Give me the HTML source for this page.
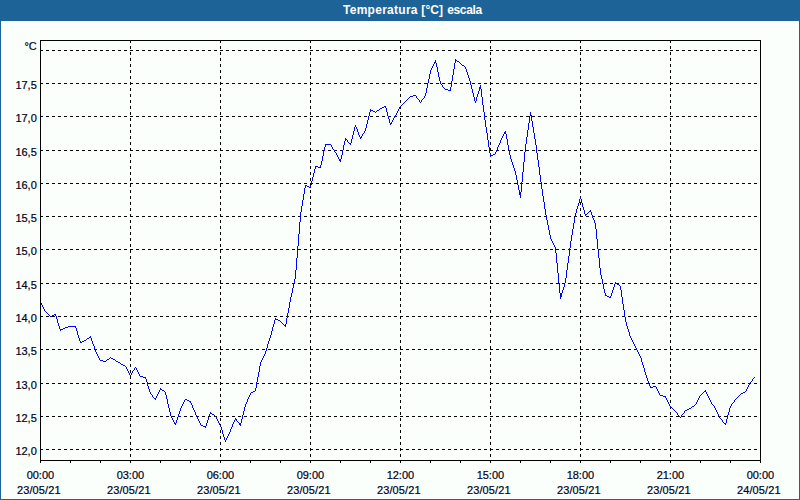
<!DOCTYPE html>
<html><head><meta charset="utf-8"><title>Temperatura</title>
<style>
html,body{margin:0;padding:0;}
body{width:800px;height:500px;overflow:hidden;background:#1E6397;position:relative;font-family:"Liberation Sans",sans-serif;}
#panel{position:absolute;left:1px;top:21px;width:798px;height:478px;background:#FBFFFB;}
</style></head><body>
<div id="panel"></div>
<svg width="800" height="500" viewBox="0 0 800 500" shape-rendering="crispEdges" style="position:absolute;left:0;top:0">
<defs><pattern id="dz" x="0" y="1" width="4" height="4" patternUnits="userSpaceOnUse"><rect x="1" y="0" width="1" height="1" fill="#2162A8"/><rect x="3" y="2" width="1" height="1" fill="#2162A8"/></pattern></defs>
<rect x="0" y="0" width="800" height="20" fill="url(#dz)"/>
<line x1="40" y1="50.5" x2="760" y2="50.5" stroke="#000" stroke-width="1" stroke-dasharray="3 3"/>
<line x1="40" y1="83.5" x2="760" y2="83.5" stroke="#000" stroke-width="1" stroke-dasharray="3 3"/>
<line x1="40" y1="116.5" x2="760" y2="116.5" stroke="#000" stroke-width="1" stroke-dasharray="3 3"/>
<line x1="40" y1="150.5" x2="760" y2="150.5" stroke="#000" stroke-width="1" stroke-dasharray="3 3"/>
<line x1="40" y1="183.5" x2="760" y2="183.5" stroke="#000" stroke-width="1" stroke-dasharray="3 3"/>
<line x1="40" y1="216.5" x2="760" y2="216.5" stroke="#000" stroke-width="1" stroke-dasharray="3 3"/>
<line x1="40" y1="249.5" x2="760" y2="249.5" stroke="#000" stroke-width="1" stroke-dasharray="3 3"/>
<line x1="40" y1="283.5" x2="760" y2="283.5" stroke="#000" stroke-width="1" stroke-dasharray="3 3"/>
<line x1="40" y1="316.5" x2="760" y2="316.5" stroke="#000" stroke-width="1" stroke-dasharray="3 3"/>
<line x1="40" y1="349.5" x2="760" y2="349.5" stroke="#000" stroke-width="1" stroke-dasharray="3 3"/>
<line x1="40" y1="383.5" x2="760" y2="383.5" stroke="#000" stroke-width="1" stroke-dasharray="3 3"/>
<line x1="40" y1="416.5" x2="760" y2="416.5" stroke="#000" stroke-width="1" stroke-dasharray="3 3"/>
<line x1="40" y1="449.5" x2="760" y2="449.5" stroke="#000" stroke-width="1" stroke-dasharray="3 3"/>
<line x1="130.5" y1="40" x2="130.5" y2="460" stroke="#000" stroke-width="1" stroke-dasharray="3 3"/>
<line x1="220.5" y1="40" x2="220.5" y2="460" stroke="#000" stroke-width="1" stroke-dasharray="3 3"/>
<line x1="310.5" y1="40" x2="310.5" y2="460" stroke="#000" stroke-width="1" stroke-dasharray="3 3"/>
<line x1="400.5" y1="40" x2="400.5" y2="460" stroke="#000" stroke-width="1" stroke-dasharray="3 3"/>
<line x1="490.5" y1="40" x2="490.5" y2="460" stroke="#000" stroke-width="1" stroke-dasharray="3 3"/>
<line x1="580.5" y1="40" x2="580.5" y2="460" stroke="#000" stroke-width="1" stroke-dasharray="3 3"/>
<line x1="670.5" y1="40" x2="670.5" y2="460" stroke="#000" stroke-width="1" stroke-dasharray="3 3"/>
<line x1="40.5" y1="460" x2="40.5" y2="463" stroke="#000" stroke-width="1"/>
<line x1="70.5" y1="460" x2="70.5" y2="463" stroke="#000" stroke-width="1"/>
<line x1="100.5" y1="460" x2="100.5" y2="463" stroke="#000" stroke-width="1"/>
<line x1="130.5" y1="460" x2="130.5" y2="463" stroke="#000" stroke-width="1"/>
<line x1="160.5" y1="460" x2="160.5" y2="463" stroke="#000" stroke-width="1"/>
<line x1="190.5" y1="460" x2="190.5" y2="463" stroke="#000" stroke-width="1"/>
<line x1="220.5" y1="460" x2="220.5" y2="463" stroke="#000" stroke-width="1"/>
<line x1="250.5" y1="460" x2="250.5" y2="463" stroke="#000" stroke-width="1"/>
<line x1="280.5" y1="460" x2="280.5" y2="463" stroke="#000" stroke-width="1"/>
<line x1="310.5" y1="460" x2="310.5" y2="463" stroke="#000" stroke-width="1"/>
<line x1="340.5" y1="460" x2="340.5" y2="463" stroke="#000" stroke-width="1"/>
<line x1="370.5" y1="460" x2="370.5" y2="463" stroke="#000" stroke-width="1"/>
<line x1="400.5" y1="460" x2="400.5" y2="463" stroke="#000" stroke-width="1"/>
<line x1="430.5" y1="460" x2="430.5" y2="463" stroke="#000" stroke-width="1"/>
<line x1="460.5" y1="460" x2="460.5" y2="463" stroke="#000" stroke-width="1"/>
<line x1="490.5" y1="460" x2="490.5" y2="463" stroke="#000" stroke-width="1"/>
<line x1="520.5" y1="460" x2="520.5" y2="463" stroke="#000" stroke-width="1"/>
<line x1="550.5" y1="460" x2="550.5" y2="463" stroke="#000" stroke-width="1"/>
<line x1="580.5" y1="460" x2="580.5" y2="463" stroke="#000" stroke-width="1"/>
<line x1="610.5" y1="460" x2="610.5" y2="463" stroke="#000" stroke-width="1"/>
<line x1="640.5" y1="460" x2="640.5" y2="463" stroke="#000" stroke-width="1"/>
<line x1="670.5" y1="460" x2="670.5" y2="463" stroke="#000" stroke-width="1"/>
<line x1="700.5" y1="460" x2="700.5" y2="463" stroke="#000" stroke-width="1"/>
<line x1="730.5" y1="460" x2="730.5" y2="463" stroke="#000" stroke-width="1"/>
<line x1="760.5" y1="460" x2="760.5" y2="463" stroke="#000" stroke-width="1"/>
<path d="M41 303h1v2h-1zM42 305h1v2h-1zM43 307h1v2h-1zM44 309h1v2h-1zM45 311h1v1h-1zM46 312h1v1h-1zM47 313h1v1h-1zM48 314h1v1h-1zM49 315h1v1h-1zM50 316h1v1h-1zM51 316h1v1h-1zM52 315h1v1h-1zM53 315h1v1h-1zM54 314h1v1h-1zM55 314h1v2h-1zM56 316h1v3h-1zM57 319h1v4h-1zM58 323h1v3h-1zM59 326h1v3h-1zM60 329h1v2h-1zM61 329h1v1h-1zM62 329h1v1h-1zM63 328h1v1h-1zM64 328h1v1h-1zM65 327h1v1h-1zM66 327h1v1h-1zM67 327h1v1h-1zM68 326h1v1h-1zM69 326h1v1h-1zM70 326h1v1h-1zM71 326h1v1h-1zM72 326h1v1h-1zM73 326h1v1h-1zM74 326h1v1h-1zM75 326h1v2h-1zM76 328h1v3h-1zM77 331h1v4h-1zM78 335h1v3h-1zM79 338h1v3h-1zM80 341h1v2h-1zM81 342h1v1h-1zM82 341h1v1h-1zM83 341h1v1h-1zM84 340h1v1h-1zM85 340h1v1h-1zM86 339h1v1h-1zM87 338h1v1h-1zM88 338h1v1h-1zM89 337h1v1h-1zM90 336h1v2h-1zM91 338h1v3h-1zM92 341h1v3h-1zM93 344h1v2h-1zM94 346h1v3h-1zM95 349h1v3h-1zM96 352h1v2h-1zM97 354h1v2h-1zM98 356h1v2h-1zM99 358h1v2h-1zM100 360h1v1h-1zM101 360h1v1h-1zM102 360h1v1h-1zM103 361h1v1h-1zM104 361h1v1h-1zM105 361h1v1h-1zM106 360h1v1h-1zM107 359h1v1h-1zM108 359h1v1h-1zM109 358h1v1h-1zM110 357h1v1h-1zM111 358h1v1h-1zM112 358h1v1h-1zM113 359h1v1h-1zM114 359h1v1h-1zM115 360h1v1h-1zM116 361h1v1h-1zM117 361h1v1h-1zM118 362h1v1h-1zM119 362h1v1h-1zM120 363h1v1h-1zM121 364h1v1h-1zM122 364h1v1h-1zM123 365h1v1h-1zM124 365h1v1h-1zM125 366h1v1h-1zM126 367h1v2h-1zM127 369h1v2h-1zM128 371h1v2h-1zM129 373h1v2h-1zM130 375h1v1h-1zM131 373h1v2h-1zM132 371h1v2h-1zM133 370h1v1h-1zM134 368h1v2h-1zM135 367h1v1h-1zM136 368h1v2h-1zM137 370h1v2h-1zM138 372h1v2h-1zM139 374h1v2h-1zM140 376h1v1h-1zM141 376h1v1h-1zM142 376h1v1h-1zM143 377h1v1h-1zM144 377h1v1h-1zM145 377h1v2h-1zM146 379h1v3h-1zM147 382h1v4h-1zM148 386h1v3h-1zM149 389h1v3h-1zM150 392h1v2h-1zM151 394h1v1h-1zM152 395h1v2h-1zM153 397h1v1h-1zM154 398h1v1h-1zM155 398h1v2h-1zM156 396h1v2h-1zM157 394h1v2h-1zM158 392h1v2h-1zM159 390h1v2h-1zM160 388h1v2h-1zM161 389h1v1h-1zM162 390h1v1h-1zM163 390h1v1h-1zM164 391h1v1h-1zM165 392h1v3h-1zM166 395h1v4h-1zM167 399h1v5h-1zM168 404h1v4h-1zM169 408h1v4h-1zM170 412h1v4h-1zM171 416h1v2h-1zM172 418h1v2h-1zM173 420h1v2h-1zM174 422h1v2h-1zM175 423h1v2h-1zM176 420h1v3h-1zM177 417h1v3h-1zM178 414h1v3h-1zM179 411h1v3h-1zM180 408h1v3h-1zM181 406h1v2h-1zM182 404h1v2h-1zM183 402h1v2h-1zM184 400h1v2h-1zM185 399h1v1h-1zM186 399h1v1h-1zM187 400h1v1h-1zM188 400h1v1h-1zM189 401h1v1h-1zM190 401h1v2h-1zM191 403h1v2h-1zM192 405h1v3h-1zM193 408h1v2h-1zM194 410h1v2h-1zM195 412h1v3h-1zM196 415h1v2h-1zM197 417h1v2h-1zM198 419h1v2h-1zM199 421h1v2h-1zM200 423h1v2h-1zM201 425h1v1h-1zM202 425h1v1h-1zM203 426h1v1h-1zM204 426h1v1h-1zM205 426h1v2h-1zM206 423h1v3h-1zM207 420h1v3h-1zM208 417h1v3h-1zM209 414h1v3h-1zM210 412h1v2h-1zM211 413h1v1h-1zM212 414h1v1h-1zM213 414h1v1h-1zM214 415h1v1h-1zM215 416h1v1h-1zM216 417h1v2h-1zM217 419h1v2h-1zM218 421h1v2h-1zM219 423h1v2h-1zM220 425h1v2h-1zM221 427h1v3h-1zM222 430h1v4h-1zM223 434h1v3h-1zM224 437h1v3h-1zM225 440h1v2h-1zM226 438h1v2h-1zM227 436h1v2h-1zM228 434h1v2h-1zM229 432h1v2h-1zM230 429h1v3h-1zM231 427h1v2h-1zM232 424h1v3h-1zM233 422h1v2h-1zM234 420h1v2h-1zM235 418h1v2h-1zM236 419h1v2h-1zM237 421h1v1h-1zM238 422h1v1h-1zM239 423h1v2h-1zM240 423h1v3h-1zM241 419h1v4h-1zM242 415h1v4h-1zM243 411h1v4h-1zM244 407h1v4h-1zM245 404h1v3h-1zM246 402h1v2h-1zM247 399h1v3h-1zM248 397h1v2h-1zM249 395h1v2h-1zM250 393h1v2h-1zM251 392h1v1h-1zM252 392h1v1h-1zM253 391h1v1h-1zM254 391h1v1h-1zM255 388h1v3h-1zM256 382h1v6h-1zM257 377h1v5h-1zM258 372h1v5h-1zM259 366h1v6h-1zM260 362h1v4h-1zM261 360h1v2h-1zM262 358h1v2h-1zM263 356h1v2h-1zM264 354h1v2h-1zM265 351h1v3h-1zM266 348h1v3h-1zM267 344h1v4h-1zM268 341h1v3h-1zM269 338h1v3h-1zM270 335h1v3h-1zM271 331h1v4h-1zM272 327h1v4h-1zM273 324h1v3h-1zM274 320h1v4h-1zM275 318h1v2h-1zM276 319h1v1h-1zM277 319h1v1h-1zM278 320h1v1h-1zM279 320h1v1h-1zM280 321h1v1h-1zM281 322h1v1h-1zM282 323h1v1h-1zM283 324h1v1h-1zM284 325h1v1h-1zM285 324h1v3h-1zM286 318h1v6h-1zM287 313h1v5h-1zM288 308h1v5h-1zM289 302h1v6h-1zM290 297h1v5h-1zM291 293h1v4h-1zM292 288h1v5h-1zM293 283h1v5h-1zM294 279h1v4h-1zM295 270h1v9h-1zM296 258h1v12h-1zM297 246h1v12h-1zM298 234h1v12h-1zM299 222h1v12h-1zM300 212h1v10h-1zM301 206h1v6h-1zM302 200h1v6h-1zM303 194h1v6h-1zM304 188h1v6h-1zM305 185h1v3h-1zM306 185h1v1h-1zM307 186h1v1h-1zM308 186h1v1h-1zM309 187h1v1h-1zM310 185h1v3h-1zM311 181h1v4h-1zM312 177h1v4h-1zM313 173h1v4h-1zM314 169h1v4h-1zM315 166h1v3h-1zM316 166h1v1h-1zM317 166h1v1h-1zM318 167h1v1h-1zM319 167h1v1h-1zM320 165h1v3h-1zM321 161h1v4h-1zM322 156h1v5h-1zM323 151h1v5h-1zM324 147h1v4h-1zM325 144h1v3h-1zM326 144h1v1h-1zM327 144h1v1h-1zM328 144h1v1h-1zM329 144h1v1h-1zM330 144h1v1h-1zM331 145h1v2h-1zM332 147h1v2h-1zM333 149h1v1h-1zM334 150h1v2h-1zM335 152h1v1h-1zM336 153h1v2h-1zM337 155h1v2h-1zM338 157h1v2h-1zM339 159h1v2h-1zM340 159h1v3h-1zM341 155h1v4h-1zM342 150h1v5h-1zM343 145h1v5h-1zM344 141h1v4h-1zM345 138h1v3h-1zM346 139h1v1h-1zM347 140h1v2h-1zM348 142h1v1h-1zM349 143h1v1h-1zM350 143h1v2h-1zM351 139h1v4h-1zM352 135h1v4h-1zM353 131h1v4h-1zM354 127h1v4h-1zM355 125h1v2h-1zM356 127h1v2h-1zM357 129h1v3h-1zM358 132h1v3h-1zM359 135h1v2h-1zM360 137h1v2h-1zM361 136h1v2h-1zM362 134h1v2h-1zM363 133h1v1h-1zM364 131h1v2h-1zM365 128h1v3h-1zM366 124h1v4h-1zM367 120h1v4h-1zM368 116h1v4h-1zM369 112h1v4h-1zM370 109h1v3h-1zM371 110h1v1h-1zM372 110h1v1h-1zM373 111h1v1h-1zM374 111h1v1h-1zM375 112h1v1h-1zM376 111h1v1h-1zM377 110h1v1h-1zM378 110h1v1h-1zM379 109h1v1h-1zM380 108h1v1h-1zM381 108h1v1h-1zM382 107h1v1h-1zM383 107h1v1h-1zM384 106h1v1h-1zM385 106h1v2h-1zM386 108h1v4h-1zM387 112h1v4h-1zM388 116h1v3h-1zM389 119h1v4h-1zM390 123h1v2h-1zM391 122h1v2h-1zM392 120h1v2h-1zM393 118h1v2h-1zM394 116h1v2h-1zM395 115h1v1h-1zM396 113h1v2h-1zM397 111h1v2h-1zM398 109h1v2h-1zM399 107h1v2h-1zM400 106h1v1h-1zM401 105h1v1h-1zM402 104h1v1h-1zM403 103h1v1h-1zM404 102h1v1h-1zM405 101h1v1h-1zM406 100h1v1h-1zM407 99h1v1h-1zM408 98h1v1h-1zM409 97h1v1h-1zM410 96h1v1h-1zM411 96h1v1h-1zM412 96h1v1h-1zM413 95h1v1h-1zM414 95h1v1h-1zM415 95h1v1h-1zM416 96h1v2h-1zM417 98h1v1h-1zM418 99h1v1h-1zM419 100h1v2h-1zM420 102h1v1h-1zM421 100h1v2h-1zM422 99h1v1h-1zM423 98h1v1h-1zM424 96h1v2h-1zM425 93h1v3h-1zM426 88h1v5h-1zM427 83h1v5h-1zM428 79h1v4h-1zM429 74h1v5h-1zM430 70h1v4h-1zM431 68h1v2h-1zM432 66h1v2h-1zM433 64h1v2h-1zM434 62h1v2h-1zM435 60h1v3h-1zM436 63h1v4h-1zM437 67h1v5h-1zM438 72h1v5h-1zM439 77h1v4h-1zM440 81h1v3h-1zM441 84h1v1h-1zM442 85h1v2h-1zM443 87h1v1h-1zM444 88h1v1h-1zM445 89h1v1h-1zM446 89h1v1h-1zM447 89h1v1h-1zM448 90h1v1h-1zM449 90h1v1h-1zM450 87h1v4h-1zM451 81h1v6h-1zM452 75h1v6h-1zM453 69h1v6h-1zM454 63h1v6h-1zM455 59h1v4h-1zM456 60h1v1h-1zM457 61h1v1h-1zM458 61h1v1h-1zM459 62h1v1h-1zM460 63h1v1h-1zM461 64h1v1h-1zM462 65h1v1h-1zM463 65h1v1h-1zM464 66h1v1h-1zM465 67h1v2h-1zM466 69h1v3h-1zM467 72h1v3h-1zM468 75h1v3h-1zM469 78h1v3h-1zM470 81h1v4h-1zM471 85h1v4h-1zM472 89h1v4h-1zM473 93h1v4h-1zM474 97h1v4h-1zM475 101h1v2h-1zM476 97h1v4h-1zM477 94h1v3h-1zM478 91h1v3h-1zM479 87h1v4h-1zM480 85h1v4h-1zM481 89h1v8h-1zM482 97h1v8h-1zM483 105h1v7h-1zM484 112h1v8h-1zM485 120h1v7h-1zM486 127h1v6h-1zM487 133h1v7h-1zM488 140h1v7h-1zM489 147h1v6h-1zM490 153h1v4h-1zM491 155h1v1h-1zM492 155h1v1h-1zM493 154h1v1h-1zM494 154h1v1h-1zM495 152h1v2h-1zM496 150h1v2h-1zM497 147h1v3h-1zM498 145h1v2h-1zM499 143h1v2h-1zM500 140h1v3h-1zM501 138h1v2h-1zM502 136h1v2h-1zM503 134h1v2h-1zM504 132h1v2h-1zM505 131h1v3h-1zM506 134h1v5h-1zM507 139h1v6h-1zM508 145h1v5h-1zM509 150h1v5h-1zM510 155h1v4h-1zM511 159h1v3h-1zM512 162h1v3h-1zM513 165h1v3h-1zM514 168h1v3h-1zM515 171h1v4h-1zM516 175h1v5h-1zM517 180h1v5h-1zM518 185h1v5h-1zM519 190h1v5h-1zM520 192h1v6h-1zM521 182h1v10h-1zM522 172h1v10h-1zM523 162h1v10h-1zM524 152h1v10h-1zM525 144h1v8h-1zM526 137h1v7h-1zM527 130h1v7h-1zM528 123h1v7h-1zM529 116h1v7h-1zM530 112h1v4h-1zM531 115h1v6h-1zM532 121h1v6h-1zM533 127h1v6h-1zM534 133h1v6h-1zM535 139h1v6h-1zM536 145h1v8h-1zM537 153h1v7h-1zM538 160h1v7h-1zM539 167h1v8h-1zM540 175h1v7h-1zM541 182h1v7h-1zM542 189h1v7h-1zM543 196h1v6h-1zM544 202h1v7h-1zM545 209h1v6h-1zM546 215h1v5h-1zM547 220h1v5h-1zM548 225h1v5h-1zM549 230h1v5h-1zM550 235h1v4h-1zM551 239h1v2h-1zM552 241h1v2h-1zM553 243h1v2h-1zM554 245h1v2h-1zM555 247h1v6h-1zM556 253h1v10h-1zM557 263h1v10h-1zM558 273h1v10h-1zM559 283h1v10h-1zM560 293h1v6h-1zM561 293h1v4h-1zM562 290h1v3h-1zM563 287h1v3h-1zM564 283h1v4h-1zM565 278h1v5h-1zM566 270h1v8h-1zM567 263h1v7h-1zM568 256h1v7h-1zM569 248h1v8h-1zM570 241h1v7h-1zM571 235h1v6h-1zM572 229h1v6h-1zM573 223h1v6h-1zM574 217h1v6h-1zM575 213h1v4h-1zM576 209h1v4h-1zM577 206h1v3h-1zM578 203h1v3h-1zM579 199h1v4h-1zM580 197h1v2h-1zM581 199h1v4h-1zM582 203h1v4h-1zM583 207h1v3h-1zM584 210h1v4h-1zM585 214h1v2h-1zM586 214h1v1h-1zM587 213h1v1h-1zM588 212h1v1h-1zM589 211h1v1h-1zM590 210h1v2h-1zM591 212h1v3h-1zM592 215h1v3h-1zM593 218h1v2h-1zM594 220h1v3h-1zM595 223h1v6h-1zM596 229h1v10h-1zM597 239h1v10h-1zM598 249h1v9h-1zM599 258h1v10h-1zM600 268h1v7h-1zM601 275h1v4h-1zM602 279h1v5h-1zM603 284h1v5h-1zM604 289h1v4h-1zM605 293h1v3h-1zM606 295h1v1h-1zM607 296h1v1h-1zM608 296h1v1h-1zM609 297h1v1h-1zM610 296h1v2h-1zM611 293h1v3h-1zM612 290h1v3h-1zM613 287h1v3h-1zM614 284h1v3h-1zM615 282h1v2h-1zM616 283h1v1h-1zM617 284h1v1h-1zM618 284h1v1h-1zM619 285h1v1h-1zM620 286h1v4h-1zM621 290h1v7h-1zM622 297h1v7h-1zM623 304h1v6h-1zM624 310h1v7h-1zM625 317h1v5h-1zM626 322h1v4h-1zM627 326h1v3h-1zM628 329h1v3h-1zM629 332h1v4h-1zM630 336h1v2h-1zM631 338h1v2h-1zM632 340h1v2h-1zM633 342h1v2h-1zM634 344h1v2h-1zM635 346h1v2h-1zM636 348h1v2h-1zM637 350h1v2h-1zM638 352h1v2h-1zM639 354h1v2h-1zM640 356h1v2h-1zM641 358h1v4h-1zM642 362h1v3h-1zM643 365h1v3h-1zM644 368h1v4h-1zM645 372h1v3h-1zM646 375h1v3h-1zM647 378h1v3h-1zM648 381h1v2h-1zM649 383h1v3h-1zM650 386h1v2h-1zM651 387h1v1h-1zM652 387h1v1h-1zM653 386h1v1h-1zM654 386h1v1h-1zM655 386h1v1h-1zM656 387h1v2h-1zM657 389h1v2h-1zM658 391h1v2h-1zM659 393h1v2h-1zM660 395h1v1h-1zM661 395h1v1h-1zM662 395h1v1h-1zM663 396h1v1h-1zM664 396h1v1h-1zM665 396h1v2h-1zM666 398h1v2h-1zM667 400h1v2h-1zM668 402h1v2h-1zM669 404h1v2h-1zM670 406h1v1h-1zM671 407h1v1h-1zM672 408h1v1h-1zM673 409h1v1h-1zM674 410h1v1h-1zM675 411h1v1h-1zM676 412h1v1h-1zM677 413h1v2h-1zM678 415h1v1h-1zM679 416h1v1h-1zM680 417h1v1h-1zM681 415h1v2h-1zM682 414h1v1h-1zM683 413h1v1h-1zM684 411h1v2h-1zM685 410h1v1h-1zM686 410h1v1h-1zM687 409h1v1h-1zM688 409h1v1h-1zM689 408h1v1h-1zM690 408h1v1h-1zM691 407h1v1h-1zM692 406h1v1h-1zM693 406h1v1h-1zM694 405h1v1h-1zM695 404h1v1h-1zM696 402h1v2h-1zM697 400h1v2h-1zM698 398h1v2h-1zM699 396h1v2h-1zM700 395h1v1h-1zM701 394h1v1h-1zM702 393h1v1h-1zM703 392h1v1h-1zM704 391h1v1h-1zM705 390h1v2h-1zM706 392h1v2h-1zM707 394h1v2h-1zM708 396h1v2h-1zM709 398h1v2h-1zM710 400h1v2h-1zM711 402h1v2h-1zM712 404h1v1h-1zM713 405h1v1h-1zM714 406h1v2h-1zM715 408h1v2h-1zM716 410h1v2h-1zM717 412h1v2h-1zM718 414h1v2h-1zM719 416h1v2h-1zM720 418h1v1h-1zM721 419h1v1h-1zM722 420h1v2h-1zM723 422h1v1h-1zM724 423h1v1h-1zM725 423h1v2h-1zM726 419h1v4h-1zM727 415h1v4h-1zM728 412h1v3h-1zM729 408h1v4h-1zM730 406h1v2h-1zM731 404h1v2h-1zM732 403h1v1h-1zM733 402h1v1h-1zM734 400h1v2h-1zM735 399h1v1h-1zM736 398h1v1h-1zM737 397h1v1h-1zM738 396h1v1h-1zM739 395h1v1h-1zM740 394h1v1h-1zM741 393h1v1h-1zM742 393h1v1h-1zM743 392h1v1h-1zM744 392h1v1h-1zM745 391h1v1h-1zM746 389h1v2h-1zM747 387h1v2h-1zM748 385h1v2h-1zM749 383h1v2h-1zM750 382h1v1h-1zM751 381h1v1h-1zM752 379h1v2h-1zM753 378h1v1h-1zM754 377h1v1h-1z" fill="#0000FF"/>
<rect x="40.5" y="40.5" width="720" height="420" fill="none" stroke="#000" stroke-width="1"/>
</svg>
<svg width="800" height="500" viewBox="0 0 800 500" style="position:absolute;left:0;top:0" font-family="Liberation Sans, sans-serif" font-size="11" fill="#00001C" stroke="#00001C" stroke-width="0.2">
<g font-size="12" font-weight="bold" fill="#fff" stroke="none"><text x="343" y="14" textLength="74.5">Temperatura</text><text x="421.3" y="14" textLength="21.8">[°C]</text><text x="447.2" y="14" textLength="35">escala</text></g>
<text x="36.8" y="50" text-anchor="end">°C</text>
<text x="36.8" y="89" text-anchor="end">17,5</text>
<text x="36.8" y="122" text-anchor="end">17,0</text>
<text x="36.8" y="156" text-anchor="end">16,5</text>
<text x="36.8" y="189" text-anchor="end">16,0</text>
<text x="36.8" y="222" text-anchor="end">15,5</text>
<text x="36.8" y="255" text-anchor="end">15,0</text>
<text x="36.8" y="289" text-anchor="end">14,5</text>
<text x="36.8" y="322" text-anchor="end">14,0</text>
<text x="36.8" y="355" text-anchor="end">13,5</text>
<text x="36.8" y="389" text-anchor="end">13,0</text>
<text x="36.8" y="422" text-anchor="end">12,5</text>
<text x="36.8" y="455" text-anchor="end">12,0</text>
<text x="40.4" y="479" text-anchor="middle">00:00</text>
<text x="17" y="494" textLength="43.6">23/05/21</text>
<text x="130.4" y="479" text-anchor="middle">03:00</text>
<text x="107" y="494" textLength="43.6">23/05/21</text>
<text x="220.4" y="479" text-anchor="middle">06:00</text>
<text x="197" y="494" textLength="43.6">23/05/21</text>
<text x="310.4" y="479" text-anchor="middle">09:00</text>
<text x="287" y="494" textLength="43.6">23/05/21</text>
<text x="400.4" y="479" text-anchor="middle">12:00</text>
<text x="377" y="494" textLength="43.6">23/05/21</text>
<text x="490.4" y="479" text-anchor="middle">15:00</text>
<text x="467" y="494" textLength="43.6">23/05/21</text>
<text x="580.4" y="479" text-anchor="middle">18:00</text>
<text x="557" y="494" textLength="43.6">23/05/21</text>
<text x="670.4" y="479" text-anchor="middle">21:00</text>
<text x="647" y="494" textLength="43.6">23/05/21</text>
<text x="760.4" y="479" text-anchor="middle">00:00</text>
<text x="737" y="494" textLength="43.6">24/05/21</text>
</svg>
</body></html>
